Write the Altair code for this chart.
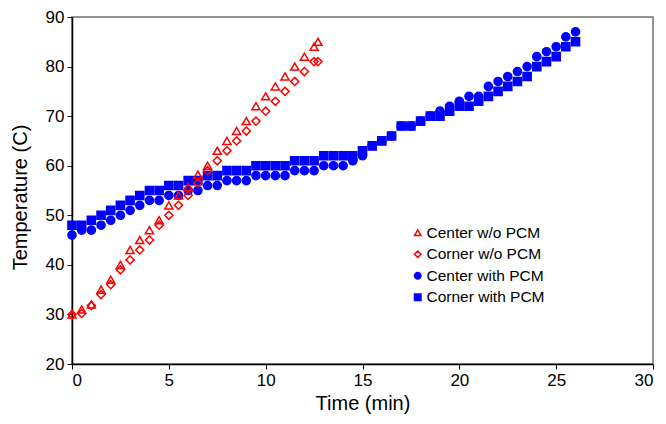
import altair as alt
import pandas as pd

# ---- data ----
t_red = [0, 0.5, 1, 1.5, 2, 2.5, 3, 3.5, 4, 4.5, 5, 5.5, 6, 6.5, 7, 7.5, 8, 8.5,
         9, 9.5, 10, 10.5, 11, 11.5, 12, 12.5, 12.7]
center_wo = [30, 31, 32, 35, 37, 40, 43, 45, 47, 49, 52, 54, 55.7, 58.2, 60, 63, 65, 67,
             69, 72, 74, 76, 78, 80, 82, 84, 85]
corner_wo = [30, 30.2, 31.8, 34, 36, 39, 41, 43, 45, 48, 50, 52, 54, 56.5, 59, 61, 63, 65,
             67, 69, 71, 73, 75, 77, 79, 81, 81]

t_blue = [0, 0.5, 1, 1.5, 2, 2.5, 3, 3.5, 4, 4.5, 5, 5.5, 6, 6.5, 7, 7.5, 8, 8.5,
          9, 9.5, 10, 10.5, 11, 11.5, 12, 12.5, 13, 13.5, 14, 14.5, 15, 15.5, 16, 16.5,
          17, 17.5, 18, 18.5, 19, 19.5, 20, 20.5, 21, 21.5, 22, 22.5, 23, 23.5, 24, 24.5,
          25, 25.5, 26]
center_with = [46, 47, 47, 48, 49, 50, 51, 52, 53, 53, 54, 54, 55, 55, 56, 56, 57, 57,
               57, 58, 58, 58, 58, 59, 59, 59, 60, 60, 60, 61, 62, 64, 65, 66,
               68, 68, 69, 70, 71, 72, 73, 74, 74, 76, 77, 78, 79, 80, 82, 83,
               84, 86, 87]
corner_with = [48, 48, 49, 50, 51, 52, 53, 54, 55, 55, 56, 56, 57, 57, 58, 58, 59, 59,
               59, 60, 60, 60, 60, 61, 61, 61, 62, 62, 62, 62, 63, 64, 65, 66,
               68, 68, 69, 70, 70, 71, 72, 72, 73, 74, 75, 76, 77, 78, 80, 81,
               82, 84, 85]

series_names = ["Center w/o PCM", "Corner w/o PCM", "Center with PCM", "Corner with PCM"]
shapes = ["triangle-up", "diamond", "circle", "square"]
strokes = ["#FF0000", "#FF0000", "#0000FF", "#0000FF"]
fills = ["transparent", "transparent", "#0000FF", "#0000FF"]

x_ticks = [0, 5, 10, 15, 20, 25, 30]
y_ticks = [20, 30, 40, 50, 60, 70, 80, 90]

rows = []
for name, ts, vs in [
    ("Center with PCM", t_blue, center_with),
    ("Corner with PCM", t_blue, corner_with),
    ("Corner w/o PCM", t_red, corner_wo),
    ("Center w/o PCM", t_red, center_wo),
]:
    for t, v in zip(ts, vs):
        rows.append({"time": t, "temp": v, "series": name})
df = pd.DataFrame(rows)

FONT = "Liberation Sans"

chart = alt.Chart(df).mark_point(strokeWidth=1.5, opacity=1, size=66).encode(
    x=alt.X("time:Q",
            scale=alt.Scale(domain=[0, 30], nice=False, zero=False),
            axis=alt.Axis(values=x_ticks, title="Time (min)", grid=False,
                          labelFont=FONT, labelFontSize=17, labelColor="black",
                          titleFont=FONT, titleFontSize=20, titleFontWeight="normal",
                          titleColor="black", tickSize=5, tickColor="black",
                          domainColor="black", domainWidth=1.5, labelPadding=3,
                          titlePadding=5)),
    y=alt.Y("temp:Q",
            scale=alt.Scale(domain=[20, 90], nice=False, zero=False),
            axis=alt.Axis(values=y_ticks, title="Temperature (C)", grid=False,
                          labelFont=FONT, labelFontSize=17, labelColor="black",
                          titleFont=FONT, titleFontSize=20, titleFontWeight="normal",
                          titleColor="black", tickSize=5, tickColor="black",
                          domainColor="black", domainWidth=1.5, labelPadding=3,
                          titleAngle=270, titleAlign="center", titleBaseline="middle",
                          titleX=-52, titleY=180)),
    shape=alt.Shape("series:N", scale=alt.Scale(domain=series_names, range=shapes),
                    legend=alt.Legend(title=None, orient="none", legendX=338, legendY=208)),
    stroke=alt.Stroke("series:N", scale=alt.Scale(domain=series_names, range=strokes)),
    fill=alt.Fill("series:N", scale=alt.Scale(domain=series_names, range=fills)),
).properties(
    width=581,
    height=347,
    background="white",
    autosize=alt.AutoSizeParams(type="none"),
    padding={"left": 64, "top": 9, "right": 5, "bottom": 52},
).configure_view(
    stroke="#707070",
    strokeWidth=1.5,
).configure_legend(
    labelFont=FONT,
    labelFontSize=15.5,
    labelColor="black",
    labelOffset=1,
    symbolSize=42,
    symbolStrokeWidth=1.5,
    rowPadding=4.5,
    padding=0,
)

chart.save("out.html", embed_options={"renderer": "svg", "actions": False})
